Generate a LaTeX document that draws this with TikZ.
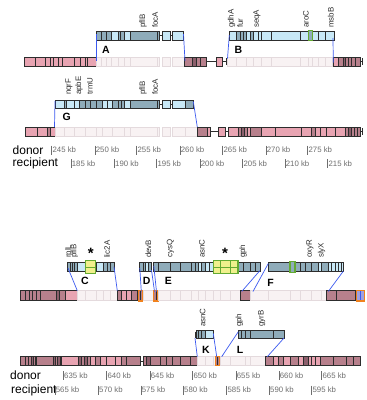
\documentclass[tikz,border=0pt]{standalone}
\usepackage{fontspec}
\setmainfont{Liberation Sans}
\definecolor{bd}{RGB}{143,172,186}
\definecolor{bl}{RGB}{200,232,246}
\definecolor{pk}{RGB}{232,164,178}
\definecolor{mv}{RGB}{183,128,140}
\definecolor{mvd}{RGB}{140,95,108}
\definecolor{fd}{RGB}{248,242,243}
\definecolor{fdl}{RGB}{228,218,221}
\definecolor{ol}{RGB}{45,45,45}
\definecolor{gn}{RGB}{100,170,50}
\definecolor{yl}{RGB}{240,240,140}
\definecolor{orng}{RGB}{240,130,30}
\definecolor{lnk}{RGB}{60,90,240}
\definecolor{lav}{RGB}{160,160,225}
\definecolor{tkc}{RGB}{110,110,110}
\newcommand\segrow[3]{\foreach \xa/\xb/\cc in {#3}{\filldraw[fill=\cc,draw=ol,line width=0.5pt] (\xa,#1) rectangle (\xb,#2);}}
\newcommand\fadrow[3]{\foreach \xa/\xb in {#3}{\filldraw[fill=fd,draw=fdl,line width=0.5pt] (\xa,#1) rectangle (\xb,#2);}}
\newcommand\tickmark[4]{\draw[tickline] (#1,#2-4.5) -- (#1,#2+4.5); \node[tklab] (#4) at (#1,#2) {#3};}
\tikzset{
 gene/.style={rotate=90,anchor=west,font=\fontsize{7.9}{7.9}\selectfont,text=ol,inner sep=0pt},
 letter/.style={font=\fontsize{10.5}{10.5}\selectfont\bfseries,inner sep=0pt},
 link/.style={draw=lnk,line width=0.7pt},
 tklab/.style={anchor=west,font=\fontsize{7.8}{7.8}\selectfont,text=tkc,inner sep=0pt,xshift=0.7pt},
 tickline/.style={draw=tkc,line width=0.5pt},
 big/.style={font=\fontsize{12}{12}\selectfont,inner sep=0pt,anchor=west},
 star/.style={font=\fontsize{15}{15}\selectfont\bfseries,inner sep=0pt,anchor=base},
 wire/.style={draw=ol,line width=0.5pt},
 hlbox/.style={fill=yl,draw=gn,line width=1.2pt},
 orbox/.style={draw=orng,line width=1.1pt},
}
\begin{document}
\begin{tikzpicture}[x=1pt,y=-1pt]
\useasboundingbox (0,0) rectangle (367,400);
\fill[white] (0,0) rectangle (367,400);

% ================= ROW 1 =================
% bar A
\segrow{31}{40}{96.7/101.7/bd,101.7/106/bd,106/111.7/bd,111.7/118.3/bl,118.3/120.5/bd,120.5/124/bd,124/130.7/bl,130.7/157.3/bd,157.3/159.3/bd,162.3/170.7/bl,172.7/183.5/bl}
\draw[wire] (159.3,35.5) -- (162.3,35.5) (170.7,35.5) -- (172.7,35.5);
% bar B
\segrow{31}{40}{229.3/236.7/bl,236.7/240/bd,240/243.3/bd,243.3/246.7/bd,246.7/250/bl,250/253.3/bd,253.3/258.3/bl,258.3/261.7/bl,261.7/271.7/bl,271.7/300/bl,300/308.3/bl,312.7/318.3/bl,318.3/325/bl,325/334/bl}
\filldraw[fill=bd,draw=gn,line width=1.1pt] (308.3,30.5) rectangle (312.7,40.5);
% track 1
\segrow{57}{66}{24.3/35/pk,35/45.7/pk,45.7/50/pk,50/53.3/pk,53.3/58.3/pk,58.3/62.3/pk,62.3/74/pk,74/80/pk,80/85/pk,85/87.3/pk,87.3/96/pk}
\fadrow{57}{66}{96/101.7,101.7/106,106/111.7,111.7/118.3,118.3/124,124/130.7,130.7/157.3,157.3/159.3,162.3/170.7,172.7/184}
\segrow{57}{66}{184.5/192/mv,192/196/mvd,196/200/mv,200/206.7/mv,216/222.7/pk}
\draw[wire] (206.7,61.5) -- (216,61.5) (222.7,61.5) -- (226.7,61.5) (226.7,58) -- (226.7,65);
\fadrow{57}{66}{227.5/236.7,236.7/246.7,246.7/253.3,253.3/261.7,261.7/271.7,271.7/300,300/308.3,308.3/312.7,312.7/318.3,318.3/325,325/332.7}
\segrow{57}{66}{333.3/338.3/pk,338.3/343.3/mv,343.3/345/mvd,345/348.3/mv,348.3/351.7/mv,351.7/355/mv,355/360/mv}
\draw[wire] (360,61.5) -- (362,61.5) (362,58) -- (362,65);
% links row 1
\coordinate (a1) at (96.7,34); \coordinate (a2) at (96.7,61);
\coordinate (a3) at (183.5,34); \coordinate (a4) at (185,61);
\coordinate (b1) at (229.3,35); \coordinate (b2) at (227.5,58.5);
\coordinate (b3) at (333,38); \coordinate (b4) at (333.3,62.5);
\draw[link] (a1) -- (a2); \draw[link] (a3) -- (a4);
\draw[link] (b1) -- (b2); \draw[link] (b3) -- (b4);
% genes row 1
\node[gene] (g1) at (143,28) {pflB};
\node[gene] (g2) at (155,28) {focA};
\node[gene] (g3) at (231.7,28) {gdhA};
\node[gene] (g4) at (240,28) {fur};
\node[gene] (g5) at (257,28) {seqA};
\node[gene] (g6) at (306,28) {aroC};
\node[gene] (g7) at (330.7,28) {msbB};
\node[letter] (LA) at (106,50) {A};
\node[letter] (LB) at (238.3,50) {B};

% ================= ROW 2 =================
\node[gene] (h1) at (69,95) {nqrF};
\node[gene] (h2) at (79,95) {apbE};
\node[gene] (h3) at (90,95) {trmU};
\node[gene] (h4) at (143,95) {pflB};
\node[gene] (h5) at (155,95) {focA};
\segrow{100}{108.3}{55/64/bl,64/66/bd,66/74/bl,74/79/bl,79/85/bd,85/90/bd,90/96/bd,96/102/bd,102/107/bl,107/112/bl,112/118/bd,118/121/bd,121/124/bd,124/130.7/bl,130.7/157.3/bd,157.3/159.3/bd,162.3/170.7/bl,172.7/185/bl,185/193.3/bd}
\draw[wire] (159.3,104.2) -- (162.3,104.2) (170.7,104.2) -- (172.7,104.2);
\segrow{127}{136}{25.7/37/pk,37/47/pk,47/50/mv,50/55/pk}
\fadrow{127}{136}{55/64,64/74,74/85,85/96,96/102,102/112,112/124,124/130.7,130.7/157.3,157.3/159.3,162.3/170.7,172.7/185,185/197}
\segrow{127}{136}{197/207/mv,207/210/pk,218/225/pk}
\draw[wire] (210,131.5) -- (218,131.5) (225,131.5) -- (228,131.5);
\segrow{127}{136}{228/238.3/pk,238.3/241/mv,241/244/mvd,244/247/mv,247/250/pk,250/261.7/mv,261.7/275/pk,275/301.7/pk,301.7/311.7/pk,311.7/315/mv,315/320/pk,320/326.7/pk,326.7/335/pk,335/345/pk,345/348/mv,348/351/mvd,351/354/mv,354/357/mv,357/360.5/mv}
\draw[wire] (360.5,131.5) -- (362.5,131.5) (362.5,128) -- (362.5,135);
\coordinate (g1a) at (55,101); \coordinate (g1b) at (54.5,127);
\coordinate (g2a) at (193.3,101.5); \coordinate (g2b) at (197.3,127);
\draw[link] (g1a) -- (g1b); \draw[link] (g2a) -- (g2b);
\node[letter] (LG) at (66.7,117.3) {G};
% axis row 2
\node[big] (don1) at (12.5,150) {donor};
\node[big] (rec1) at (12.5,163.5) {recipient};
\tickmark{51.7}{150}{245 kb}{t1}
\tickmark{95}{150}{250 kb}{t2}
\tickmark{136.7}{150}{255 kb}{t3}
\tickmark{180}{150}{260 kb}{t4}
\tickmark{222.7}{150}{265 kb}{t5}
\tickmark{266}{150}{270 kb}{t6}
\tickmark{307.7}{150}{275 kb}{t7}
\tickmark{71}{163.5}{185 kb}{r1}
\tickmark{114.3}{163.5}{190 kb}{r2}
\tickmark{156.7}{163.5}{195 kb}{r3}
\tickmark{200}{163.5}{200 kb}{r4}
\tickmark{242.7}{163.5}{205 kb}{r5}
\tickmark{285}{163.5}{210 kb}{r6}
\tickmark{327.7}{163.5}{215 kb}{r7}

% ================= ROW 3 =================
\node[gene] (k1) at (68.8,258) {rplL};
\node[gene] (k2) at (74.3,258) {pflB};
\node[gene] (k3) at (107,258) {lic2A};
\node[gene] (k4) at (148.3,258) {devB};
\node[gene] (k5) at (170.5,258) {cysQ};
\node[gene] (k6) at (202,258) {asnC};
\node[gene] (k7) at (243,258) {gph};
\node[gene] (k8) at (310,258) {oxyR};
\node[gene] (k9) at (321.7,258) {slyX};
\node[star] (s1) at (90.7,258.5) {*};
\node[star] (s2) at (225,258.5) {*};
% bar C
\segrow{262.3}{271.7}{67.7/70/bd,70/72/bd,72/74/bd,74/77/bd,77/85/bl,96/103/bl,103/107/bd,107/110/bd,110/114/bd}
\filldraw[hlbox] (85.5,260.5) rectangle (95.5,273.5);
\draw[gn,line width=0.5pt] (85.5,267) -- (95.5,267);
% bar D
\segrow{262.3}{271.7}{139.5/143/bd,143/145.5/bd,145.5/148.5/bl,148.5/151.5/bd}
% bar E
\segrow{262.3}{271.7}{153.5/158/bd,158/170/bd,170/180/bd,180/191.7/bd,191.7/195/bd,195/198.3/bd,198.3/201.7/bl,201.7/205/bd,205/209/bl,209/213.3/bl,238.3/243.3/bd,243.3/250/bd,250/255/bd,255/260/bd}
\filldraw[hlbox] (213.8,260.5) rectangle (238,273.5);
\draw[gn,line width=0.6pt] (213.8,267) -- (238,267) (220,260.5) -- (220,273.5) (230,260.5) -- (230,273.5);
% bar F
\segrow{262.3}{271.7}{268.3/290/bd,295/300/bd,300/305/bd,305/311.7/bd,311.7/318.3/bd,318.3/321.7/bl,321.7/328.3/bd,328.3/331.7/bl,331.7/335/bl,335/338/bl,338/341/bl,341/343.3/bl}
\filldraw[fill=bd,draw=gn,line width=1.1pt] (290,261.8) rectangle (295,272.2);
% track 3
\segrow{290.7}{300.7}{20.7/25/mv,25/29.3/mv,29.3/32.7/mv,32.7/36.7/mv,36.7/40/mv,40/56.7/mv,56.7/59.3/mvd,59.3/65/mv,65/77.3/pk}
\fadrow{290.7}{300.7}{77.3/85,85/96,96/103,103/110,110/117.3}
\segrow{290.7}{300.7}{117.3/121.7/mv,121.7/126.7/pk,126.7/131.7/pk,131.7/137.7/mv}
\filldraw[fill=mv,orbox] (138.2,290.4) rectangle (142.4,301);
\draw[ol,line width=0.6pt] (140.3,291) -- (140.3,300.4);
\fadrow{290.7}{300.7}{143/153}
\filldraw[fill=mv,orbox] (153.6,290.4) rectangle (158,301);
\draw[ol,line width=0.6pt] (155.8,291) -- (155.8,300.4);
\fadrow{290.7}{300.7}{158.6/170,170/180,180/191.7,191.7/198.3,198.3/205,205/213.3,213.3/220,220/230,230/240}
\segrow{290.7}{300.7}{240/250/mv}
\fadrow{290.7}{300.7}{250/268.3,268.3/290,290/300,300/311.7,311.7/321.7,321.7/326.7}
\segrow{290.7}{300.7}{326.7/336.7/mv,336.7/355/mv}
\filldraw[fill=lav,orbox] (356.3,290.4) rectangle (364.7,301);
\draw[lnk,line width=0.8pt] (360.5,291.2) -- (360.5,300.2);
% links row 3
\coordinate (c1) at (68,268); \coordinate (c2) at (77.3,290.7);
\coordinate (c3) at (114,266.7); \coordinate (c4) at (117.3,290.7);
\coordinate (d1) at (139.8,268); \coordinate (d2) at (141.3,291.5);
\coordinate (d3) at (151.5,270); \coordinate (d4) at (154.5,291.5);
\coordinate (e1) at (153.8,266); \coordinate (e2) at (156.5,291.5);
\coordinate (e3) at (260,270.5); \coordinate (e4) at (241.7,291.5);
\coordinate (f1) at (268.3,263.5); \coordinate (f2) at (253,291.5);
\coordinate (f3) at (343.3,271.2); \coordinate (f4) at (328.3,291.5);
\draw[link] (c1) -- (c2); \draw[link] (c3) -- (c4);
\draw[link] (d1) -- (d2); \draw[link] (d3) -- (d4);
\draw[link] (e1) -- (e2); \draw[link] (e3) -- (e4);
\draw[link] (f1) -- (f2); \draw[link] (f3) -- (f4);
\node[letter] (LC) at (85,281) {C};
\node[letter] (LD) at (146.7,281) {D};
\node[letter] (LE) at (168.3,281) {E};
\node[letter] (LF) at (270.5,283) {F};

% ================= ROW 4 =================
\node[gene] (m1) at (202.7,327) {asnC};
\node[gene] (m2) at (239.3,327) {gph};
\node[gene] (m3) at (261.7,327) {gyrB};
% bar K
\draw[wire] (195,331.5) -- (195,337.5) (195,334.5) -- (196.5,334.5);
\segrow{330.7}{338.3}{196.5/198.5/bd,198.5/201/bd,201/205/bd,205/213.3/bl}
% bar L
\segrow{330.7}{338.3}{238.3/241/bd,241/245/bd,245/250/bd,250/273.3/bd,273.3/284/bd}
% track 4
\segrow{356.7}{365}{20.7/25/mv,25/28.3/mv,28.3/31.7/mv,31.7/33.5/mvd,33.5/35/mv,35/36.7/mvd,36.7/53.3/mv,53.3/55/mvd,55/57/mv,57/60/mvd,61.7/78.3/pk,78.3/81/mvd,81/84/mv,84/87/mvd,87/90/mv,90/95/pk,95/100/mv,100/106.7/pk,106.7/115/pk,115/121.7/pk,121.7/126.7/mv,126.7/140/mv,143.3/146.7/mv,146.7/150/mvd,150/160/mv,160/166.7/mv,166.7/172/mv,172/180/mv,180/190/mv,190/197.3/mv}
\draw[wire] (60,360.8) -- (61.7,360.8) (140,360.8) -- (143.3,360.8);
\fadrow{356.7}{365}{197.3/205,205/213.3,213.3/215,220.5/230,230/245,245/250,250/265}
\filldraw[fill=mv,orbox] (215.3,356.4) rectangle (219.9,365.4);
\draw[ol,line width=0.6pt] (217.6,357) -- (217.6,364.6);
\segrow{356.7}{365}{265/273.3/mv,273.3/278.3/pk,278.3/283.3/mv,283.3/290/pk,290/298/mv,298/303.3/pk,303.3/308.3/mvd,308.3/311.7/pk,311.7/315/pk,315/320/pk,320/333.3/mv,333.3/346.7/mv,346.7/353.3/mv,353.3/360/mv}
% links row 4
\coordinate (k1a) at (195,338); \coordinate (k1b) at (197.3,356.7);
\coordinate (k2a) at (213.3,333.3); \coordinate (k2b) at (216.7,356.7);
\coordinate (l1a) at (238.3,331.7); \coordinate (l1b) at (221.7,356.7);
\coordinate (l2a) at (284,338); \coordinate (l2b) at (267.3,356.7);
\draw[link] (k1a) -- (k1b); \draw[link] (k2a) -- (k2b);
\draw[link] (l1a) -- (l1b); \draw[link] (l2a) -- (l2b);
\node[letter] (LK) at (206,350) {K};
\node[letter] (LL) at (240,350) {L};
% axis row 4
\node[big] (don2) at (10,375.7) {donor};
\node[big] (rec2) at (11,390) {recipient};
\tickmark{63.3}{375.7}{635 kb}{u1}
\tickmark{106.7}{375.7}{640 kb}{u2}
\tickmark{150}{375.7}{645 kb}{u3}
\tickmark{192.7}{375.7}{650 kb}{u4}
\tickmark{236}{375.7}{655 kb}{u5}
\tickmark{279}{375.7}{660 kb}{u6}
\tickmark{321.7}{375.7}{665 kb}{u7}
\tickmark{55}{390}{565 kb}{v1}
\tickmark{98.3}{390}{570 kb}{v2}
\tickmark{141}{390}{575 kb}{v3}
\tickmark{183.3}{390}{580 kb}{v4}
\tickmark{226.7}{390}{585 kb}{v5}
\tickmark{269.3}{390}{590 kb}{v6}
\tickmark{311.7}{390}{595 kb}{v7}
\end{tikzpicture}
\end{document}
